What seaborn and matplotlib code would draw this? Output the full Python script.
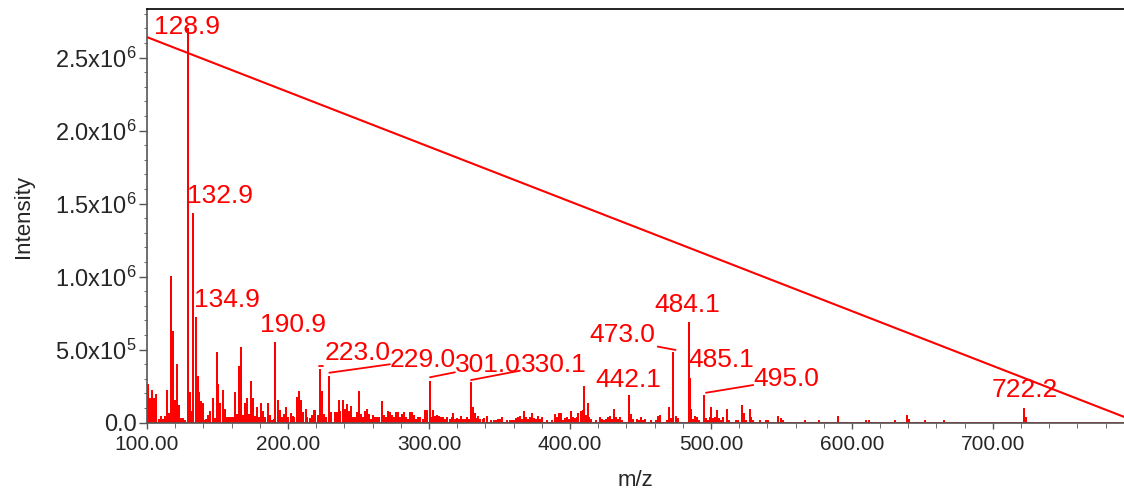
import matplotlib
matplotlib.use("Agg")
import matplotlib.pyplot as plt
from matplotlib.ticker import MultipleLocator, FuncFormatter
import pandas as pd
import seaborn as sns

sns.set_style("ticks")
plt.rcParams["font.family"] = ["Liberation Sans", "DejaVu Sans"]

RED = "#ff0000"

# peak list: m/z and intensity (x1e5)
peak_mz = [
    100.6, 102.2, 103.6, 105.3, 106.7, 108.2, 109.6, 111.2, 112.4, 114.1,
    115.5, 117.2, 118.6, 120.0, 121.4, 122.8, 124.3, 125.7, 127.1, 128.9,
    130.2, 131.6, 132.9, 134.9, 136.0, 137.0, 138.2, 139.4, 140.6, 142.0,
    143.5, 144.9, 146.5, 148.0, 149.4, 150.6, 152.0, 153.6, 155.1, 156.5,
    157.9, 159.3, 160.8, 162.4, 163.8, 165.3, 166.7, 168.3, 169.8, 171.2,
    172.6, 174.0, 175.5, 176.9, 178.3, 179.7, 181.1, 182.6, 184.0, 185.6,
    187.1, 188.5, 189.9, 190.9, 193.0, 194.4, 196.1, 197.5, 198.9, 200.3,
    201.8, 203.2, 204.4, 206.6, 207.8, 209.4, 210.8, 212.5, 213.6, 215.3,
    216.7, 218.1, 219.5, 221.4, 223.0, 224.2, 225.6, 227.1, 229.0, 230.4,
    233.2, 234.6, 236.0, 237.2, 238.8, 240.2, 241.6, 243.1, 244.5, 245.9,
    247.3, 248.7, 250.4, 251.8, 253.2, 254.6, 256.0, 257.4, 258.8, 260.5,
    261.9, 263.3, 264.7, 266.4, 267.8, 269.2, 270.8, 272.2, 273.6, 275.1,
    276.5, 277.9, 279.3, 280.9, 282.4, 283.8, 285.2, 286.8, 288.2, 289.6,
    291.1, 292.5, 293.9, 295.5, 296.9, 298.4, 301.0, 302.2, 303.2, 304.4,
    305.6, 306.9, 308.4, 310.0, 311.4, 313.0, 314.7, 316.0, 317.2, 318.4,
    320.0, 321.4, 322.6, 324.2, 325.6, 326.7, 328.1, 330.1, 331.2, 332.3,
    334.0, 335.1, 336.5, 338.1, 339.3, 340.9, 344.0, 346.3, 347.7, 349.3,
    350.7, 352.1, 355.6, 357.2, 358.6, 360.2, 361.6, 363.0, 364.4, 365.8,
    367.2, 368.6, 370.0, 371.6, 373.3, 374.7, 376.0, 377.4, 379.1, 380.5,
    383.5, 387.0, 389.1, 390.5, 391.9, 393.5, 394.9, 396.3, 397.7, 399.1,
    400.5, 401.9, 403.3, 404.7, 406.0, 407.9, 409.0, 410.0, 411.1, 412.5,
    413.7, 415.1, 418.4, 421.2, 422.6, 424.2, 425.6, 427.0, 428.4, 429.8,
    431.2, 432.6, 434.3, 435.7, 437.1, 442.1, 443.2, 444.4, 447.3, 448.7,
    450.1, 451.8, 453.4, 457.4, 461.1, 462.3, 463.7, 468.8, 470.2, 471.6,
    473.0, 474.9, 476.3, 484.1, 485.1, 486.2, 487.3, 488.9, 490.1, 491.7,
    495.0, 496.2, 497.6, 499.0, 500.4, 501.8, 503.2, 504.6, 506.0, 507.4,
    508.8, 511.5, 512.9, 517.6, 519.3, 521.9, 523.3, 524.7, 527.5, 528.7,
    530.1, 534.8, 538.8, 540.5, 547.8, 549.4, 550.8, 566.6, 576.9, 590.1,
    610.1, 611.8, 630.6, 639.3, 640.7, 651.6, 665.0, 722.2, 723.5,
]
peak_int = [
    2.6, 1.6, 2.2, 1.6, 1.9, 0.2, 0.4, 0.2, 0.4, 2.2,
    0.6, 10.0, 6.2, 1.5, 3.95, 1.15, 0.25, 0.25, 0.1, 26.95,
    2.0, 0.7, 14.3, 7.15, 3.1, 2.0, 1.4, 1.3, 0.1, 0.2,
    0.45, 0.7, 1.6, 0.25, 4.75, 2.6, 1.25, 2.2, 0.85, 0.35,
    0.3, 0.3, 0.3, 2.05, 0.55, 3.8, 5.1, 0.45, 1.3, 1.6,
    0.55, 2.8, 1.6, 0.4, 1.0, 0.35, 1.3, 0.7, 0.35, 1.3,
    0.45, 0.1, 0.2, 5.48, 1.5, 0.8, 0.35, 0.55, 1.0, 0.35,
    0.6, 0.4, 0.3, 1.7, 2.1, 1.5, 0.65, 0.85, 0.35, 0.25,
    0.45, 0.8, 0.8, 0.45, 3.6, 2.1, 0.5, 0.3, 3.15, 0.65,
    0.65, 0.65, 1.5, 0.75, 1.5, 0.9, 1.2, 0.7, 1.05, 0.35,
    0.35, 0.65, 2.1, 0.5, 0.35, 0.75, 0.9, 0.5, 0.2, 0.45,
    0.35, 0.35, 0.35, 1.4, 0.45, 0.3, 0.75, 0.65, 0.45, 0.35,
    0.65, 0.65, 0.35, 0.5, 0.65, 0.35, 0.2, 0.65, 0.65, 0.45,
    0.2, 0.3, 0.3, 0.2, 0.8, 0.8, 2.81, 0.3, 0.8, 0.4,
    0.45, 0.4, 0.3, 0.3, 0.2, 0.35, 0.2, 0.3, 0.6, 0.2,
    0.25, 0.2, 0.4, 0.2, 0.2, 0.3, 0.2, 2.74, 1.0, 0.6,
    0.25, 0.4, 0.2, 0.2, 0.25, 0.4, 0.1, 0.15, 0.15, 0.2,
    0.2, 0.3, 0.1, 0.15, 0.1, 0.1, 0.25, 0.3, 0.4, 0.2,
    0.7, 0.3, 0.2, 0.3, 0.6, 0.25, 0.2, 0.4, 0.2, 0.3,
    0.15, 0.15, 0.5, 0.3, 0.6, 0.6, 0.1, 0.25, 0.3, 0.2,
    0.7, 0.3, 0.25, 0.3, 0.6, 0.7, 0.8, 2.42, 0.45, 1.25,
    0.3, 0.2, 0.15, 0.3, 0.2, 0.15, 0.2, 0.3, 0.4, 0.2,
    0.85, 0.3, 0.2, 0.3, 0.15, 1.83, 0.55, 0.2, 0.2, 0.1,
    0.3, 0.15, 0.2, 0.1, 0.15, 0.4, 0.45, 0.1, 1.0, 0.25,
    4.75, 0.4, 0.25, 6.85, 2.97, 0.85, 0.2, 0.4, 0.3, 0.15,
    1.83, 0.25, 0.15, 0.3, 1.0, 0.25, 0.3, 0.8, 0.25, 0.1,
    0.3, 0.85, 0.15, 0.15, 0.1, 1.15, 0.57, 0.1, 0.85, 0.35,
    0.1, 0.1, 0.1, 0.1, 0.4, 0.25, 0.1, 0.1, 0.1, 0.4,
    0.1, 0.1, 0.1, 0.45, 0.2, 0.1, 0.1, 0.92, 0.3,
]

# peak labels: text, centre m/z, baseline intensity (x1e6)
label_text = ["128.9", "132.9", "134.9", "190.9", "223.0", "229.0", "301.0",
              "330.1", "442.1", "473.0", "484.1", "485.1", "495.0", "722.2"]
label_x = [128.7, 151.8, 156.4, 203.2, 249.6, 295.4, 341.8,
           388.7, 441.1, 437.2, 483.3, 507.1, 553.2, 722.7]
label_y = [2.662, 1.505, 0.795, 0.623, 0.429, 0.384, 0.347,
           0.347, 0.247, 0.551, 0.758, 0.379, 0.251, 0.174]

# leader lines from peak top to label
leader_x0 = [222.0, 229.3, 300.7, 329.8, 462.2, 496.5]
leader_y0 = [0.388, 0.342, 0.311, 0.292, 0.521, 0.205]
leader_x1 = [224.6, 272.3, 318.4, 364.5, 474.9, 530.0]
leader_y1 = [0.388, 0.400, 0.345, 0.356, 0.498, 0.258]

diag_mz = [100.0, 793.0]
diag_int = [2.64, 0.04]

# stick spectrum as one path
xs, ys = [], []
for m, h in zip(peak_mz, peak_int):
    xs += [m, m, m]
    ys += [0, h * 1e5, 0]
spec = pd.DataFrame({"mz": xs, "intensity": ys})

fig, ax = plt.subplots(figsize=(11.24, 4.93), dpi=100)
fig.subplots_adjust(left=0.1308, right=1.0, top=0.981, bottom=0.1426)

ax.axhline(0, color=RED, lw=1.2)
sns.lineplot(ax=ax, data=spec, x="mz", y="intensity", sort=False,
             estimator=None, color=RED, lw=1.2)
sns.lineplot(ax=ax, x=diag_mz, y=[v * 1e6 for v in diag_int],
             color=RED, lw=1.5)

for x0, y0, x1, y1 in zip(leader_x0, leader_y0, leader_x1, leader_y1):
    ax.plot([x0, x1], [y0 * 1e6, y1 * 1e6], color=RED, lw=1.3)

for t, x, y in zip(label_text, label_x, label_y):
    ax.text(x, y * 1e6, t, color=RED, fontsize=19, ha="center", va="baseline")

ax.set_xlim(100, 793)
ax.set_ylim(0, 2.83e6)

ax.xaxis.set_major_locator(MultipleLocator(100))
ax.xaxis.set_minor_locator(MultipleLocator(20))
ax.yaxis.set_major_locator(MultipleLocator(5e5))
ax.yaxis.set_minor_locator(MultipleLocator(1e5))


def fmt_y(v, pos):
    if v == 0:
        return "0.0"
    exp = 6 if v >= 1e6 else 5
    return r"$\mathregular{%.1fx10^{%d}}$" % (v / 10 ** exp, exp)


ax.xaxis.set_major_formatter(FuncFormatter(lambda v, p: "%.2f" % v))
ax.yaxis.set_major_formatter(FuncFormatter(fmt_y))

ax.tick_params(axis="both", which="major", color="#555555", width=1.0)
ax.tick_params(axis="y", which="major", length=6, pad=1.5, labelsize=17)
ax.tick_params(axis="y", which="minor", length=2.5, color="#555555")
ax.tick_params(axis="x", which="major", length=4.5, pad=4, labelsize=15)
ax.tick_params(axis="x", which="minor", length=3.5, color="#555555")

for side in ["left", "bottom"]:
    ax.spines[side].set_color("#555555")
    ax.spines[side].set_linewidth(1.2)
ax.spines["top"].set_color("black")
ax.spines["top"].set_linewidth(1.2)
ax.spines["right"].set_visible(False)

ax.set_xlabel("m/z", fontsize=16, labelpad=12)
ax.set_ylabel("Intensity", fontsize=16, labelpad=15)

fig.savefig("out.png", dpi=100)
